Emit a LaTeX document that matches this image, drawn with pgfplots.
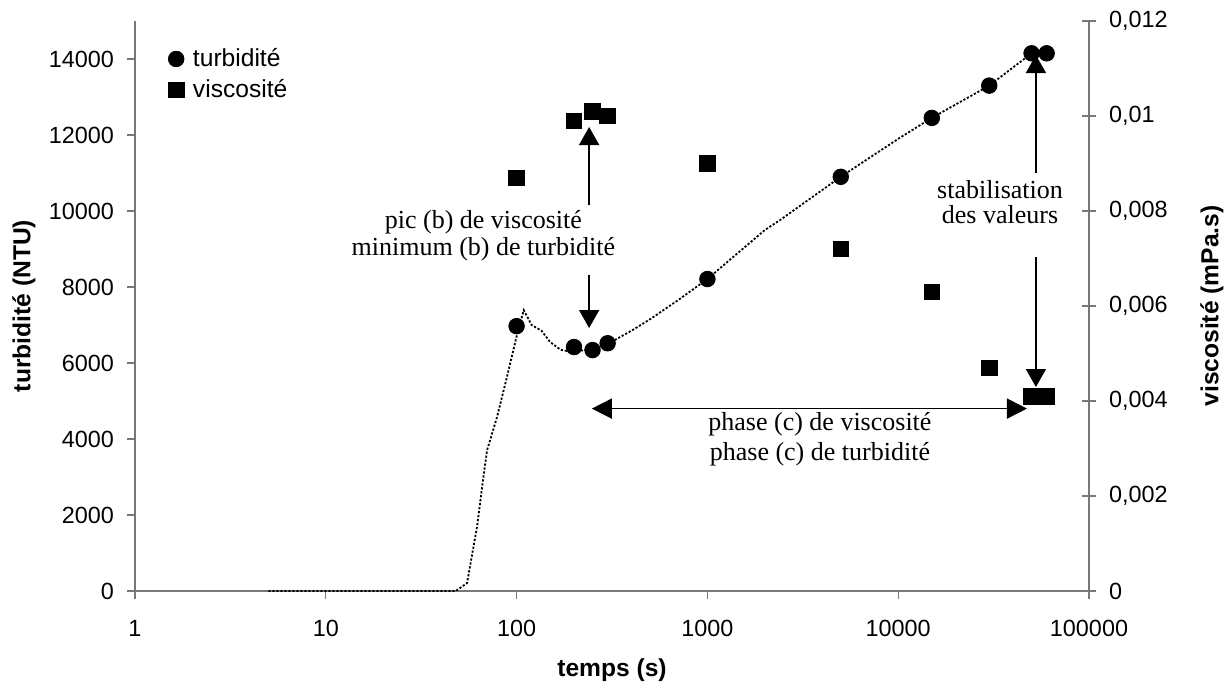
\documentclass[border=0pt]{standalone}
\usepackage{fontspec}
\setmainfont{Liberation Sans}
\newfontfamily\timesfont{Liberation Serif}
\usepackage{pgfplots}
\pgfplotsset{compat=1.18}
\usetikzlibrary{arrows.meta}
\definecolor{axgray}{RGB}{120,120,120}

\begin{document}
\begin{tikzpicture}
\begin{axis}[
  scale only axis, width=477pt, height=285pt,
  xmode=log, xmin=1, xmax=100000,
  ymin=0, ymax=15000,
  scaled y ticks=false, scaled x ticks=false,
  axis x line*=bottom, axis y line*=left,
  axis line style={axgray, line width=0.7pt},
  every tick/.style={axgray, line width=0.7pt},
  xminorticks=false, yminorticks=false,
  tick label style={font=\fontsize{11.7}{14}\selectfont, black},
  clip=false,
  tick align=outside, major tick length=4pt,
  xtick={1,10,100,1000,10000,100000},
  xticklabels={1,10,100,1000,10000,100000},
  ytick={0,2000,4000,6000,8000,10000,12000,14000},
  yticklabels={0,2000,4000,6000,8000,10000,12000,14000},
  yticklabel style={xshift=-3pt},
  xticklabel style={yshift=-7pt},
  every axis x label/.style={at={(axis description cs:0.5,0)}, anchor=center, yshift=-39.5pt},
  every axis y label/.style={at={(axis description cs:0,0.5)}, anchor=center, xshift=-55.5pt, rotate=90},
  xlabel={\fontsize{12.3}{14}\selectfont\bfseries temps (s)},
  ylabel={\fontsize{12.3}{14}\selectfont\bfseries turbidité (NTU)},
  legend style={draw=none, fill=none, at={(axis description cs:0,1)}, anchor=north west,
    xshift=16.5pt, yshift=-11.5pt, inner sep=0pt, row sep=1pt, column sep=2.5pt,
    font=\fontsize{12.3}{14}\selectfont},
  legend cell align=left,
]
% dotted turbidity curve
\addplot[black, dash pattern=on 1.1pt off 0.9pt, line width=0.9pt, forget plot] coordinates {
 (5,0) (10,0) (20,0) (40,0) (48,0) (55,210) (62,1680) (67,3000) (70,3700)
 (79,4580) (89,5630) (100,6700) (109,7390) (120,7000) (135,6850) (150,6550)
 (170,6350) (190,6300) (220,6330) (250,6380) (300,6500) (400,6850) (500,7150)
 (700,7650) (1000,8210) (2000,9500) (2400,9760) (5000,10900) (10000,11900)
 (15000,12450) (30000,13300) (50000,14150)
};
\addplot[only marks, mark=*, mark size=3.9pt, black] coordinates {
 (100,6970) (200,6420) (250,6340) (300,6520) (1000,8210) (5000,10900)
 (15000,12450) (30000,13300) (50000,14150) (60000,14150)
};
\addlegendentry{turbidité}
\addlegendimage{only marks, mark=square*, mark size=3.9pt, black}
\addlegendentry{viscosité}

% annotations
\draw[black, line width=0.8pt, -{Triangle[length=9pt,width=10pt]}] (axis cs:240,10150) -- (axis cs:240,12210);
\draw[black, line width=0.8pt, -{Triangle[length=9pt,width=10pt]}] (axis cs:240,8316) -- (axis cs:240,6921);
\node[font=\timesfont\fontsize{13}{13.5}\selectfont, align=center] at (axis cs:67,9342)
  {pic (b) de viscosité\\minimum (b) de turbidité};
\draw[black, line width=0.8pt, -{Triangle[length=9pt,width=10pt]}] (axis cs:52700,11000) -- (axis cs:52700,14105);
\draw[black, line width=0.8pt, -{Triangle[length=9pt,width=10pt]}] (axis cs:52700,8790) -- (axis cs:52700,5368);
\node[font=\timesfont\fontsize{13}{12.5}\selectfont, align=center] at (axis cs:34180,10237)
  {stabilisation\\des valeurs};
\draw[black, line width=0.8pt, {Triangle[length=10pt,width=10pt]}-{Triangle[length=10pt,width=10pt]}] (axis cs:248,4800) -- (axis cs:47300,4800);
\node[font=\timesfont\fontsize{13}{15}\selectfont, align=center] at (axis cs:3890,4000)
  {phase (c) de viscosité\\phase (c) de turbidité};
\end{axis}

\begin{axis}[
  scale only axis, width=477pt, height=285pt,
  xmode=log, xmin=1, xmax=100000,
  ymin=0, ymax=0.012,
  scaled y ticks=false, scaled x ticks=false,
  axis x line=none, axis y line*=right,
  xtick=\empty,
  axis line style={axgray, line width=0.7pt},
  every tick/.style={axgray, line width=0.7pt},
  yminorticks=false,
  tick label style={font=\fontsize{11.7}{14}\selectfont, black},
  clip=false,
  tick align=center, major tick length=7pt,
  ytick={0,0.002,0.004,0.006,0.008,0.01,0.012},
  yticklabels={0,{0,002},{0,004},{0,006},{0,008},{0,01},{0,012}},
  yticklabel style={xshift=3pt},
  every axis y label/.style={at={(axis description cs:1,0.5)}, anchor=center, xshift=61.5pt, rotate=90},
  ylabel={\fontsize{12.3}{14}\selectfont\bfseries viscosité (mPa.s)},
]
\addplot[only marks, mark=square*, mark size=3.9pt, black] coordinates {
 (100,0.0087) (200,0.0099) (250,0.0101) (300,0.0100) (1000,0.0090) (5000,0.0072)
 (15000,0.0063) (30000,0.0047) (50000,0.0041) (60000,0.0041)
};
\end{axis}
\pgfresetboundingbox
\path (current axis.south west) ++(-67.5pt,-45.5pt) rectangle ++(616pt,341pt);
\end{tikzpicture}
\end{document}
